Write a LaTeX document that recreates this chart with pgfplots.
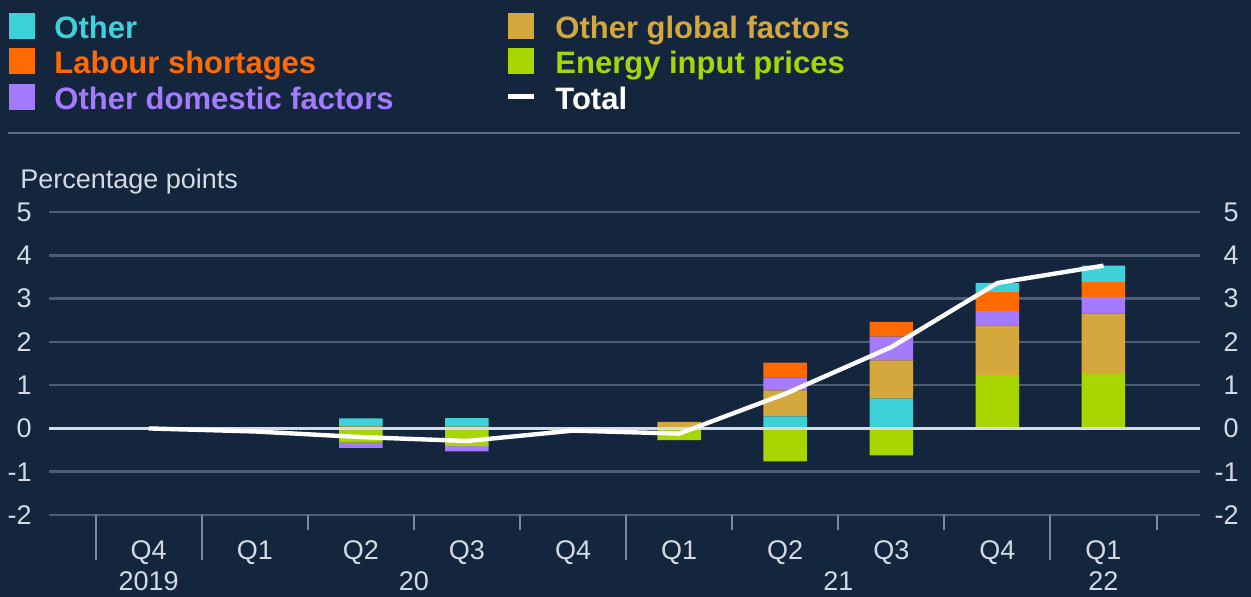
\documentclass[border=0pt]{standalone}
\usepackage{fontspec}
\setmainfont{Liberation Sans}
\usepackage{pgfplots}
\usepackage{pgfplotstable}
\pgfplotsset{compat=1.18}
\definecolor{bg}{HTML}{14253E}
\definecolor{gridc}{HTML}{4E5D75}
\definecolor{tickc}{HTML}{7F8A9B}
\definecolor{sepc}{HTML}{5E6C82}
\definecolor{txt}{HTML}{D5DAE2}
\definecolor{zeroc}{HTML}{D8DCE2}
\definecolor{cOther}{HTML}{3ED2D8}
\definecolor{cLab}{HTML}{FF6B00}
\definecolor{cDom}{HTML}{A47BFF}
\definecolor{cGlob}{HTML}{D4A83C}
\definecolor{cEn}{HTML}{A8D600}
\newcommand\axfont{\fontsize{13.5bp}{15bp}\selectfont}
\newcommand\lgfont{\fontsize{15.5bp}{17bp}\selectfont\bfseries}

\pgfplotstableread{
i enpos glob dom lab othlow othtop enneg domneg total
0 0    0    0    0    0    0    0     0     0
1 0    0    0    0    0    0    0     0     -0.07
2 0    0.05 0    0    0    0.18 -0.33 -0.12 -0.20
3 0    0.04 0    0    0    0.20 -0.41 -0.12 -0.29
4 0    0.03 0    0    0    0    -0.07 0     -0.05
5 0    0.15 0    0    0    0    -0.27 0     -0.12
6 0    0.60 0.30 0.34 0.28 0    -0.76 0     0.80
7 0    0.88 0.55 0.34 0.69 0    -0.62 0     1.88
8 1.23 1.15 0.33 0.44 0    0.21 0     0     3.36
9 1.26 1.40 0.38 0.34 0    0.38 0     0     3.76
}\data

\pgfplotsset{base/.style={at={(24.5bp,-257.5bp)}, anchor=south west,
  scale only axis, width=575.5bp, height=151.5bp,
  xmin=-0.94, xmax=9.91, ymin=-2, ymax=5, clip=false}}

\begin{document}
\begin{tikzpicture}
\fill[bg] (0,0) rectangle (625.5bp,-298.5bp);
\draw[sepc, line width=1.2bp] (4bp,-66.5bp) -- (620bp,-66.5bp);

% legend
\fill[cOther] (4.5bp,-6.4bp) rectangle (17.5bp,-19.4bp);
\node[anchor=base west, inner sep=0pt, font=\lgfont, text=cOther] at (27bp,-19bp) {Other};
\fill[cLab] (4.5bp,-24.15bp) rectangle (17.5bp,-37.15bp);
\node[anchor=base west, inner sep=0pt, font=\lgfont, text=cLab] at (27bp,-36.75bp) {Labour shortages};
\fill[cDom] (4.5bp,-41.9bp) rectangle (17.5bp,-54.9bp);
\node[anchor=base west, inner sep=0pt, font=\lgfont, text=cDom] at (27bp,-54.5bp) {Other domestic factors};
\fill[cGlob] (254bp,-6.4bp) rectangle (267bp,-19.4bp);
\node[anchor=base west, inner sep=0pt, font=\lgfont, text=cGlob] at (277.5bp,-19bp) {Other global factors};
\fill[cEn] (254bp,-24.15bp) rectangle (267bp,-37.15bp);
\node[anchor=base west, inner sep=0pt, font=\lgfont, text=cEn] at (277.5bp,-36.75bp) {Energy input prices};
\fill[white] (254bp,-47.2bp) rectangle (267bp,-49.6bp);
\node[anchor=base west, inner sep=0pt, font=\lgfont, text=white] at (277.5bp,-54.5bp) {Total};

\node[anchor=base west, inner sep=0pt, font=\axfont, text=txt] at (10bp,-94bp) {Percentage points};

% positive contributions
\begin{axis}[base, ybar stacked, bar width=0.41, bar shift=0pt,
  axis x line*=bottom, axis y line*=left, axis line style={draw=none},
  ymajorgrids, grid style={gridc, line width=1.3bp},
  ytick={-2,...,5}, yticklabels={-2,-1,0,1,2,3,4,5},
  y tick label style={font=\axfont, text=txt, inner sep=0pt, xshift=-8.5bp},
  xtick={0,...,9}, xticklabels={Q4,Q1,Q2,Q3,Q4,Q1,Q2,Q3,Q4,Q1},
  x tick label style={font=\axfont, text=txt, inner sep=0pt, yshift=-12.5bp},
  major tick length=0pt, minor tick length=7.5bp, tick align=outside,
  minor xtick={-0.5,0.5,...,9.5},
  minor x tick style={tickc, line width=1bp},
  ytick style={draw=none}]
\addplot[fill=cOther, draw=none] table[x=i, y=othlow] {\data};
\addplot[fill=cEn, draw=none] table[x=i, y=enpos] {\data};
\addplot[fill=cGlob, draw=none] table[x=i, y=glob] {\data};
\addplot[fill=cDom, draw=none] table[x=i, y=dom] {\data};
\addplot[fill=cLab, draw=none] table[x=i, y=lab] {\data};
\addplot[fill=cOther, draw=none] table[x=i, y=othtop] {\data};
\draw[tickc, line width=1bp] (axis cs:-0.5,-2) -- ++(0pt,-22.5bp);
\draw[tickc, line width=1bp] (axis cs:0.5,-2) -- ++(0pt,-22.5bp);
\draw[tickc, line width=1bp] (axis cs:4.5,-2) -- ++(0pt,-22.5bp);
\draw[tickc, line width=1bp] (axis cs:8.5,-2) -- ++(0pt,-22.5bp);
\node[anchor=north, inner sep=0pt, font=\axfont, text=txt] at ([yshift=-28bp]axis cs:0,-2) {2019};
\node[anchor=north, inner sep=0pt, font=\axfont, text=txt] at ([yshift=-28bp]axis cs:2.5,-2) {20};
\node[anchor=north, inner sep=0pt, font=\axfont, text=txt] at ([yshift=-28bp]axis cs:6.5,-2) {21};
\node[anchor=north, inner sep=0pt, font=\axfont, text=txt] at ([yshift=-28bp]axis cs:9,-2) {22};
\end{axis}

% negative contributions
\begin{axis}[base, ybar stacked, bar width=0.41, bar shift=0pt,
  axis x line=none, axis y line*=right, axis line style={draw=none},
  ytick={-2,...,5}, yticklabels={-2,-1,0,1,2,3,4,5},
  y tick label style={font=\axfont, text=txt, inner sep=0pt, anchor=east, xshift=19.5bp},
  major tick length=0pt, ytick style={draw=none}]
\addplot[fill=cEn, draw=none] table[x=i, y=enneg] {\data};
\addplot[fill=cDom, draw=none] table[x=i, y=domneg] {\data};
\end{axis}

% zero line and total
\begin{axis}[base, hide axis]
\addplot[draw=zeroc, line width=1.6bp, mark=none] coordinates {(-0.94,0) (9.91,0)};
\addplot[draw=white, line width=2.2bp, line join=round, mark=none] table[x=i, y=total] {\data};
\end{axis}

\pgfresetboundingbox
\useasboundingbox (0,0) rectangle (625.5bp,-298.5bp);
\end{tikzpicture}
\end{document}
